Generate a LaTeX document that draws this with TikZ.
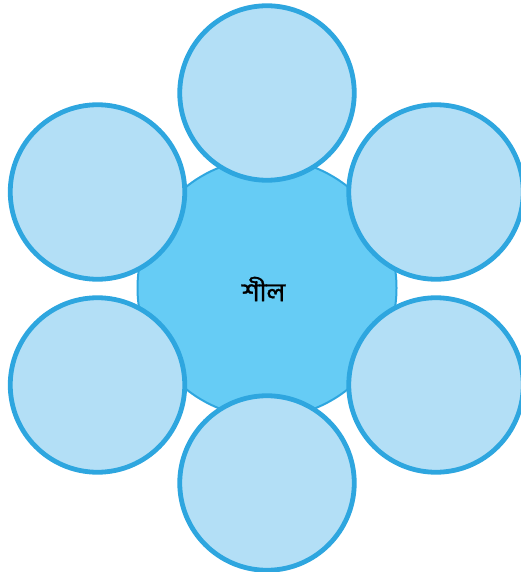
\documentclass[tikz,border=0pt]{standalone}
\usepackage{fontspec}
\newfontfamily\bengfont[Script=Bengali]{Hind Siliguri}
\definecolor{edgeblue}{HTML}{2EA6DF}
\definecolor{lightfill}{HTML}{B3DFF6}
\definecolor{midfill}{HTML}{66CCF5}
\begin{document}
\begin{tikzpicture}[x=1pt,y=-1pt,
  hub/.style={circle,draw=edgeblue,fill=midfill,line width=2pt,minimum size=259pt,inner sep=0pt},
  petal/.style={circle,draw=edgeblue,fill=lightfill,line width=4.8pt,minimum size=174.5pt,inner sep=0pt},
  label/.style={font=\bengfont\fontsize{26}{29}\selectfont\addfontfeatures{FakeBold=1.2}}]
\useasboundingbox (0,0) rectangle (520,572);
\node[hub] (c) at (267,288) {};
\node[label] (t) at (263.5,289) {শীল};
\node[petal] (p1) at (267,93) {};
\node[petal] (p2) at (436,192) {};
\node[petal] (p3) at (436,385) {};
\node[petal] (p4) at (267,483) {};
\node[petal] (p5) at (97.5,385) {};
\node[petal] (p6) at (97.5,192) {};
\end{tikzpicture}
\end{document}
